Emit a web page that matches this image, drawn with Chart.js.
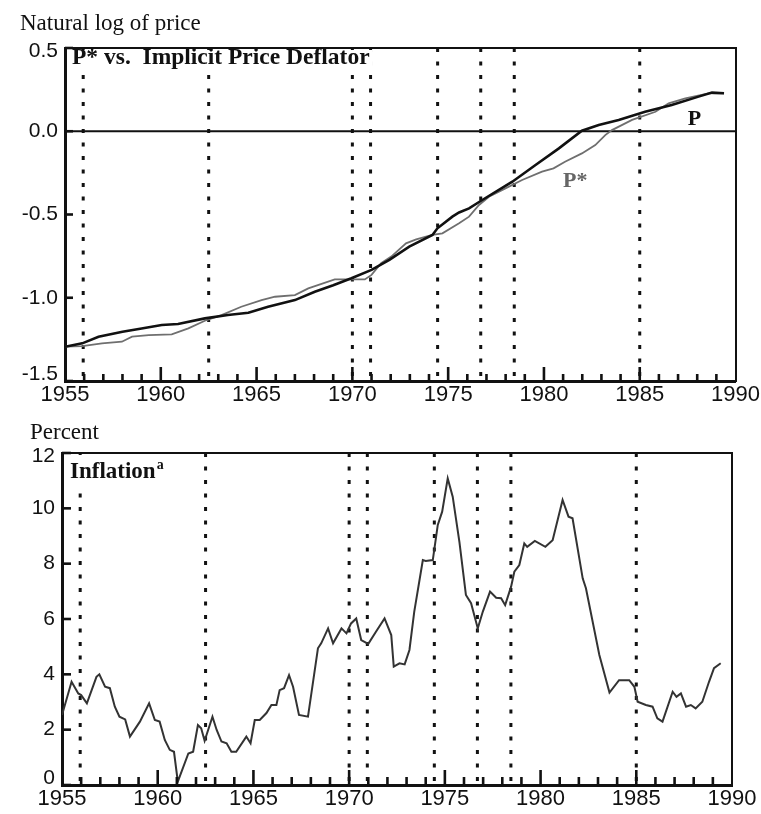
<!DOCTYPE html>
<html><head><meta charset="utf-8">
<script src="https://cdn.jsdelivr.net/npm/chart.js@4.4.1/dist/chart.umd.min.js"></script>
<style>
html,body{margin:0;padding:0;background:#fff;}
#wrap{position:relative;width:761px;height:814px;overflow:hidden;background:#fff;}
canvas{position:absolute;left:0;}
#c1{top:0;}
#c2{top:410px;}
</style></head><body>
<div id="wrap"><canvas id="c1" width="761" height="410"></canvas><canvas id="c2" width="761" height="404"></canvas></div>
<script>
// ---------- data ----------
const xTickLabels = ['1955','1960','1965','1970','1975','1980','1985','1990'];
const logTickLabels = ['-1.5','-1.0','-0.5','0.0','0.5'];
const pctTickLabels = ['0','2','4','6','8','10','12'];
const markerDates = [1955.95, 1962.5, 1970.0, 1970.95, 1974.45, 1976.7, 1978.45, 1985.0];

const pYears  = [1955.0,1955.9,1956.75,1958.0,1959.0,1960.05,1960.9,1962.3,1963.5,1964.57,1965.6,1967.0,1968.04,1969.0,1969.95,1971.0,1971.93,1972.97,1974.18,1974.44,1975.22,1975.57,1976.09,1976.78,1978.35,1979.56,1980.78,1981.98,1982.86,1983.9,1985.28,1986.67,1988.07,1988.77,1989.4];
const pValues = [-1.294,-1.274,-1.234,-1.204,-1.185,-1.164,-1.158,-1.124,-1.104,-1.09,-1.054,-1.014,-0.964,-0.925,-0.883,-0.833,-0.773,-0.693,-0.623,-0.583,-0.513,-0.488,-0.463,-0.413,-0.303,-0.203,-0.103,0.003,0.038,0.068,0.117,0.158,0.208,0.232,0.228];

const pStarYears  = [1955.0,1955.9,1956.93,1957.97,1958.5,1959.37,1960.57,1961.44,1962.3,1963.17,1964.2,1965.26,1965.96,1967.0,1967.7,1969.08,1969.95,1970.65,1971.0,1971.5,1972.03,1972.8,1973.33,1974.18,1974.7,1975.57,1976.09,1976.61,1977.13,1977.99,1978.86,1979.9,1980.5,1981.1,1981.98,1982.68,1983.2,1983.55,1984.6,1985.82,1986.51,1987.38,1988.59,1989.4];
const pStarValues = [-1.294,-1.29,-1.274,-1.264,-1.234,-1.224,-1.22,-1.184,-1.138,-1.104,-1.054,-1.014,-0.994,-0.984,-0.944,-0.89,-0.89,-0.89,-0.863,-0.793,-0.753,-0.673,-0.649,-0.623,-0.613,-0.553,-0.513,-0.443,-0.393,-0.343,-0.293,-0.243,-0.223,-0.183,-0.133,-0.083,-0.023,0.007,0.068,0.117,0.168,0.198,0.228,0.228];

const inflYears  = [1955.0,1955.5,1955.85,1956.0,1956.3,1956.8,1956.95,1957.25,1957.5,1957.76,1958.0,1958.3,1958.55,1959.07,1959.55,1959.85,1960.1,1960.37,1960.63,1960.85,1961.05,1961.6,1961.85,1962.1,1962.27,1962.45,1962.86,1963.08,1963.33,1963.6,1963.85,1964.1,1964.63,1964.85,1965.07,1965.33,1965.68,1965.94,1966.2,1966.37,1966.6,1966.86,1967.07,1967.38,1967.85,1968.37,1968.54,1968.9,1969.16,1969.6,1969.86,1970.1,1970.37,1970.63,1971.0,1971.4,1971.85,1972.2,1972.33,1972.63,1972.9,1973.15,1973.4,1973.85,1974.0,1974.37,1974.63,1974.86,1975.15,1975.41,1975.76,1976.1,1976.37,1976.72,1976.98,1977.36,1977.68,1977.94,1978.15,1978.46,1978.63,1978.89,1979.15,1979.3,1979.7,1980.25,1980.63,1981.15,1981.46,1981.67,1982.2,1982.37,1983.07,1983.6,1984.1,1984.63,1984.9,1985.07,1985.5,1985.85,1986.1,1986.37,1986.9,1987.1,1987.33,1987.6,1987.85,1988.1,1988.45,1988.8,1989.06,1989.41];
const inflValues = [2.53,3.73,3.31,3.25,2.95,3.91,4.0,3.55,3.5,2.83,2.47,2.37,1.75,2.29,2.95,2.35,2.29,1.63,1.27,1.2,0.12,1.14,1.2,2.17,2.05,1.6,2.47,1.99,1.57,1.51,1.2,1.2,1.75,1.51,2.35,2.35,2.6,2.89,2.89,3.43,3.5,3.97,3.55,2.53,2.47,4.94,5.12,5.66,5.12,5.66,5.48,5.84,6.02,5.24,5.1,5.54,6.02,5.42,4.28,4.4,4.36,4.88,6.26,8.13,8.1,8.13,9.4,9.88,11.08,10.42,8.79,6.87,6.57,5.66,6.26,6.99,6.77,6.75,6.5,7.17,7.71,7.95,8.73,8.61,8.82,8.61,8.85,10.3,9.7,9.64,7.47,7.11,4.7,3.34,3.79,3.79,3.55,3.01,2.89,2.83,2.41,2.29,3.37,3.19,3.31,2.83,2.89,2.77,3.01,3.73,4.22,4.4];

// ---------- styling ----------
const SANS = "'Liberation Sans', Arial, Helvetica, sans-serif";
const SERIF = "'Liberation Serif', 'Times New Roman', Times, serif";
const INK = '#111';
const X_MIN = 1955, X_MAX = 1990;

function pts(xs, ys){ return xs.map((x,i)=>({x:x, y:ys[i]})); }

function markerSets(ymin, ymax){
  return markerDates.map(d=>({
    data:[{x:d,y:ymax},{x:d,y:ymin}],
    borderColor:INK, borderWidth:3, borderDash:[4,9.5], borderCapStyle:'butt',
    pointRadius:0, order:10
  }));
}

function scalesFor(ymin, ymax, ystep, yLabels, yWidth, xHeight){
  return {
    x:{type:'linear',min:X_MIN,max:X_MAX,position:'bottom',
       ticks:{stepSize:5,autoSkip:false,maxRotation:0,minRotation:0,padding:1,color:INK,
              font:{family:SANS,size:22},callback:(v,i)=>xTickLabels[i]},
       grid:{display:false,drawTicks:false},
       border:{display:true,color:INK,width:3},
       afterFit:s=>{s.height=xHeight;}},
    x2:{type:'linear',min:X_MIN,max:X_MAX,position:'top',
       ticks:{display:false},grid:{display:false,drawTicks:false},
       border:{display:true,color:INK,width:2},
       afterFit:s=>{s.height=0;}},
    y:{type:'linear',min:ymin,max:ymax,position:'left',
       ticks:{display:false,stepSize:ystep,callback:(v,i)=>yLabels[i]},
       grid:{display:false,drawTicks:false},
       border:{display:true,color:INK,width:3},
       afterFit:s=>{s.width=yWidth;}},
    y2:{type:'linear',min:ymin,max:ymax,position:'right',
       ticks:{display:false},grid:{display:false,drawTicks:false},
       border:{display:true,color:INK,width:2},
       afterFit:s=>{s.width=0;}}
  };
}

const deco = {
  id:'deco',
  afterDatasetsDraw(chart, args, o){
    const ctx = chart.ctx, a = chart.chartArea;
    const xs = chart.scales.x, ys = chart.scales.y;
    ctx.save();
    ctx.font = o.titleFont;
    const w = ctx.measureText(o.title).width;
    let supW = 0;
    if (o.sup){ ctx.font = o.supFont; supW = ctx.measureText(o.sup).width + 2; ctx.font = o.titleFont; }
    ctx.fillStyle = '#fff';
    ctx.fillRect(a.left + o.titleDx - 3, a.top + 2, w + supW + 6, o.titleDy + o.titleClear - 2);
    ctx.fillStyle = INK;
    ctx.textAlign = 'left'; ctx.textBaseline = 'alphabetic';
    ctx.fillText(o.title, a.left + o.titleDx, a.top + o.titleDy);
    if (o.sup){
      ctx.font = o.supFont;
      ctx.fillText(o.sup, a.left + o.titleDx + w + 1, a.top + o.titleDy - 9);
    }
    (o.seriesLabels || []).forEach(l=>{
      ctx.font = l.font; ctx.fillStyle = l.color;
      ctx.fillText(l.text, xs.getPixelForValue(l.x), ys.getPixelForValue(l.y));
    });
    ctx.restore();
  },
  afterDraw(chart, args, o){
    const ctx = chart.ctx, a = chart.chartArea;
    const xs = chart.scales.x, ys = chart.scales.y;
    ctx.save();
    ctx.strokeStyle = INK; ctx.lineWidth = 2.6; ctx.lineCap = 'butt';
    for (let yr = X_MIN + 1; yr < X_MAX; yr++){
      const px = xs.getPixelForValue(yr);
      const len = (yr % 5 === 0) ? o.major : o.minor;
      ctx.beginPath(); ctx.moveTo(px, a.bottom); ctx.lineTo(px, a.bottom - len); ctx.stroke();
    }
    ys.ticks.forEach(t=>{
      const py = ys.getPixelForValue(t.value);
      ctx.beginPath(); ctx.moveTo(a.left, py); ctx.lineTo(a.left + o.ytick, py); ctx.stroke();
    });
    // y tick labels
    ctx.fillStyle = INK; ctx.font = '21px ' + SANS;
    ctx.textAlign = 'right'; ctx.textBaseline = 'middle';
    ys.ticks.forEach(t=>{
      let py = ys.getPixelForValue(t.value);
      py = Math.max(a.top + 3, Math.min(a.bottom - 7, py));
      ctx.fillText(t.label, a.left - 7, py);
    });
    // axis unit label
    ctx.textAlign = 'left'; ctx.textBaseline = 'alphabetic';
    ctx.font = '23px ' + SERIF;
    ctx.fillText(o.unit, a.left + o.unitDx, a.top + o.unitDy);
    ctx.restore();
  }
};

Chart.defaults.animation = false;
Chart.defaults.font.family = SANS;

// ---------- top chart ----------
new Chart(document.getElementById('c1'), {
  type:'line',
  data:{datasets:[
    {data:pts(pStarYears,pStarValues),borderColor:'#6f6f6f',borderWidth:1.8,pointRadius:0,tension:0,order:2},
    {data:pts(pYears,pValues),borderColor:INK,borderWidth:2.6,pointRadius:0,tension:0,order:1},
    {data:[{x:X_MIN,y:0},{x:X_MAX,y:0}],borderColor:INK,borderWidth:2,pointRadius:0,order:3},
    ...markerSets(-1.5,0.5)
  ]},
  options:{
    responsive:false, devicePixelRatio:1, parsing:true,
    layout:{padding:{left:0,top:48,right:25,bottom:0}},
    scales:scalesFor(-1.5,0.5,0.5,logTickLabels,65,29),
    plugins:{legend:{display:false},tooltip:{enabled:false},
      deco:{title:'P* vs.  Implicit Price Deflator', titleFont:'bold 23.5px '+SERIF, titleDx:7, titleDy:16, titleClear:3,
            unit:'Natural log of price', unitDx:-45, unitDy:-18, major:14, minor:7, ytick:8,
            seriesLabels:[
              {text:'P', x:1987.5, y:0.037, color:INK, font:'bold 22px '+SERIF},
              {text:'P*', x:1981.0, y:-0.335, color:'#666', font:'bold 22px '+SERIF}
            ]}}
  },
  plugins:[deco]
});

// ---------- bottom chart ----------
new Chart(document.getElementById('c2'), {
  type:'line',
  data:{datasets:[
    {data:pts(inflYears,inflValues),borderColor:'#333',borderWidth:2,pointRadius:0,tension:0,order:1},
    ...markerSets(0,12)
  ]},
  options:{
    responsive:false, devicePixelRatio:1,
    layout:{padding:{left:0,top:43,right:29,bottom:0}},
    scales:scalesFor(0,12,2,pctTickLabels,62,29),
    plugins:{legend:{display:false},tooltip:{enabled:false},
      deco:{title:'Inflation', titleFont:'bold 23px '+SERIF, titleDx:8, titleDy:25, titleClear:7,
            sup:'a', supFont:'bold 14px '+SERIF,
            unit:'Percent', unitDx:-32, unitDy:-14, major:15, minor:8, ytick:9}}
  },
  plugins:[deco]
});
</script>
</body></html>
